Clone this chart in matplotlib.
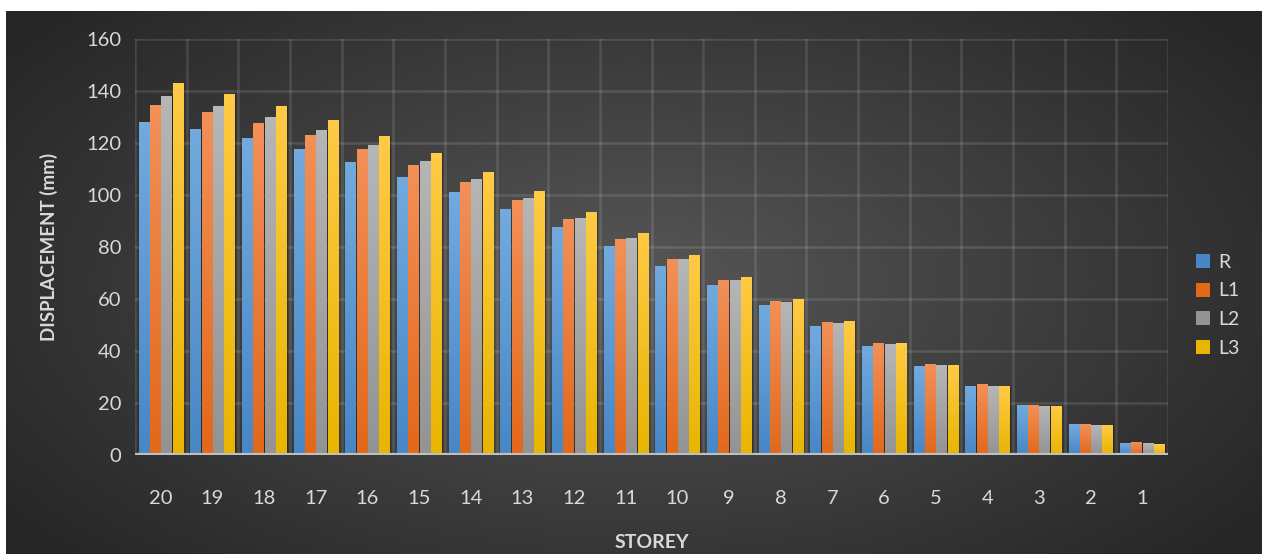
import matplotlib.pyplot as plt
from matplotlib.colors import LinearSegmentedColormap
import numpy as np

storeys = ['20', '19', '18', '17', '16', '15', '14', '13', '12', '11',
           '10', '9', '8', '7', '6', '5', '4', '3', '2', '1']
R = [128.0, 125.4, 121.9, 117.7, 112.7, 107.0, 101.2, 94.6, 87.7, 80.4,
     72.7, 65.4, 57.7, 49.6, 41.9, 34.2, 26.5, 19.2, 11.9, 4.6]
L1 = [134.6, 132.0, 127.7, 123.0, 117.7, 111.5, 105.0, 98.0, 90.8, 83.0,
      75.4, 67.3, 59.2, 51.2, 43.1, 35.0, 27.3, 19.2, 11.9, 5.0]
L2 = [138.0, 134.2, 130.0, 125.0, 119.2, 113.0, 106.2, 98.8, 91.2, 83.5,
      75.4, 67.3, 58.8, 50.8, 42.7, 34.6, 26.5, 18.8, 11.5, 4.6]
L3 = [143.0, 138.8, 134.2, 128.8, 122.7, 116.0, 108.8, 101.5, 93.5, 85.4,
      77.0, 68.5, 60.0, 51.5, 43.1, 34.6, 26.5, 18.8, 11.5, 4.2]
series = {'R': R, 'L1': L1, 'L2': L2, 'L3': L3}

# (top, bottom) shades for each series
shades = {
    'R': ('#72aade', '#4787c6'),
    'L1': ('#f29058', '#e2681a'),
    'L2': ('#b6b6b6', '#939393'),
    'L3': ('#ffca45', '#e8b500'),
}

plt.rcParams['font.family'] = ['Lato', 'DejaVu Sans']
txt = '#d9d9d9'

fig = plt.figure(figsize=(12.62, 5.54), dpi=100)
fig.patch.set_facecolor('white')

# radial gradient background
bg = fig.add_axes([6 / 1262, 0, 1 - 6 / 1262, (554 - 11) / 554], zorder=-5)
yy, xx = np.mgrid[0:1:300j, 0:1:700j]
r = np.sqrt(((xx - 0.5) / 0.62) ** 2 + ((yy - 0.5) / 0.75) ** 2)
bgcmap = LinearSegmentedColormap.from_list('bg', ['#575757', '#262626'])
bg.imshow(np.clip(r, 0, 1), cmap=bgcmap, aspect='auto', extent=[0, 1, 0, 1],
          vmin=0, vmax=1)
bg.axis('off')

ax = fig.add_axes([135 / 1262, 99 / 554, 1033 / 1262, 416 / 554])
ax.set_facecolor('none')

x = np.arange(len(storeys))
step = 0.219
width = 0.195
grad = np.linspace(0, 1, 64).reshape(-1, 1)
for i, (name, vals) in enumerate(series.items()):
    top, bot = shades[name]
    cmap = LinearSegmentedColormap.from_list(name, [bot, top])
    pos = x + (i - 1.5) * step
    # soft shadow behind the bars
    ax.bar(pos + 0.03, vals, width=width, color='black', alpha=0.25, zorder=2,
           linewidth=0)
    bars = ax.bar(pos, vals, width=width, color=bot, label=name, zorder=3,
                  linewidth=0)
    for b in bars:
        x0, y0 = b.get_x(), b.get_y()
        im = ax.imshow(grad, cmap=cmap, aspect='auto', origin='lower',
                       extent=[x0, x0 + b.get_width(), y0, y0 + b.get_height()],
                       zorder=4)
        im.set_clip_path(b)

ax.set_xlim(-0.5, len(storeys) - 0.5)
ax.set_ylim(0, 160)
ax.set_yticks(np.arange(0, 161, 20))
ax.set_xticks(x)
ax.set_xticklabels(storeys)

# grid lines on category boundaries and value ticks
for xb in np.arange(-0.5, len(storeys), 1.0):
    ax.axvline(xb, color='white', alpha=0.12, lw=1.8, zorder=1)
for yv in np.arange(20, 161, 20):
    ax.axhline(yv, color='white', alpha=0.12, lw=1.8, zorder=1)
ax.axhline(0, color='#bfbfbf', lw=3, zorder=5)

for s in ax.spines.values():
    s.set_visible(False)
ax.tick_params(axis='both', length=0, colors=txt, labelsize=14.5)
ax.tick_params(axis='x', pad=25)
ax.tick_params(axis='y', pad=10)

ax.set_ylabel('DISPLACEMENT (mm)', color=txt, fontsize=13.5,
              fontweight='bold', labelpad=20)
ax.set_xlabel('STOREY', color=txt, fontsize=14, fontweight='bold',
              labelpad=20)

leg = ax.legend(loc='center left', bbox_to_anchor=(1.01, 0.36), frameon=False,
                fontsize=14, handlelength=0.75, handleheight=0.75,
                handletextpad=0.4, labelspacing=0.6)
for t in leg.get_texts():
    t.set_color(txt)

fig.savefig('out.png', dpi=100)
